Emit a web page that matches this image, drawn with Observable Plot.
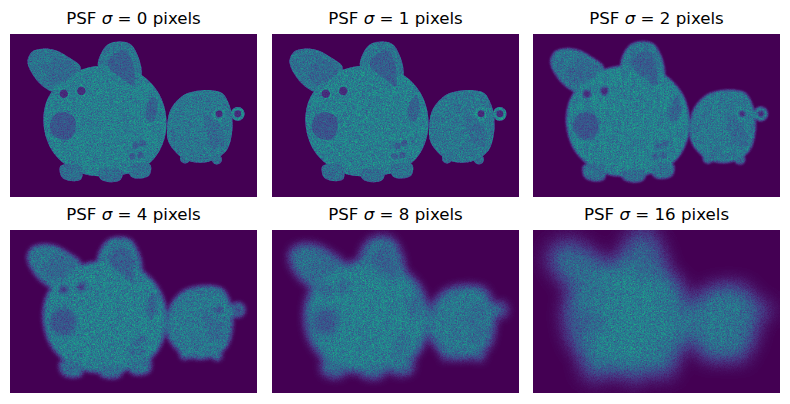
<!DOCTYPE html>
<html><head><meta charset="utf-8">
<script src="https://cdn.jsdelivr.net/npm/d3@7"></script>
<script src="https://cdn.jsdelivr.net/npm/@observablehq/plot@0.6"></script>
<style>
body{margin:0;background:#fff;}
#fig{position:relative;width:790px;height:404px;font-family:"DejaVu Sans",sans-serif;}
.title{position:absolute;width:247px;text-align:center;font-size:16.67px;line-height:16.67px;color:#000;white-space:nowrap;}
.panel{position:absolute;width:247px;height:163px;}
.panel svg{display:block;}
</style></head>
<body><div id="fig"></div>
<script>
// ---- data (image pixel coordinates of a 450 x 300 image) ----
const IMG_W = 450, IMG_H = 300;
const sigmas = [0, 1, 2, 4, 8, 16];

const bigBody   = [[60,161],[64,128],[78,101],[104,77],[137,62],[173,57],[210,61],[242,77],[268,105],[281,136],[284,171],[277,202],[261,229],[233,250],[200,259],[168,261],[135,257],[106,244],[80,220],[66,193]];
const leftEar   = [[31,50],[40,31],[58,26],[82,29],[106,42],[128,61],[109,88],[82,106],[64,99],[44,79]];
const rightEar  = [[160,59],[164,37],[178,18],[200,13],[219,18],[231,37],[239,68],[233,97],[215,92],[195,73],[177,62]];
const leftFoot  = [[91,242],[93,262],[106,269],[128,267],[131,251],[124,240]];
const midFoot   = [[160,250],[164,266],[182,272],[200,268],[204,251],[182,248]];
const rightFoot = [[215,245],[220,262],[237,265],[253,259],[255,240],[233,236]];
const smallBody = [[285,176],[290,142],[304,121],[322,108],[346,103],[368,103],[386,108],[398,128],[404,155],[403,185],[394,213],[372,230],[346,236],[318,230],[297,212],[287,195]];
const smallFeet = [[318,228],[376,230]];

const leftEarInner  = [[64,64],[82,46],[106,51],[120,66],[100,86],[76,92]];
const rightEarInner = [[177,55],[188,37],[206,29],[220,44],[226,73],[224,95],[204,81],[186,68]];
const snout         = [[73,161],[82,147],[100,143],[117,154],[118,176],[106,193],[86,191],[73,178]];
const sideMark      = [[250,125],[261,114],[268,132],[259,161],[248,156]];
const smallShade    = [[352,141],[366,154],[386,174],[388,202],[370,206],[357,180]];

const eyes      = [[97,109],[129,104]];
const pawSpots  = [[228,205],[240,200],[222,224],[237,222]];
const hearts    = [[380,146],[414,146]];

// intensity levels (0..1, shown through the viridis colormap)
const baseShapes = [
  {id:"leftEar", pts:leftEar, level:0.37},
  {id:"rightEar", pts:rightEar, level:0.38},
  {id:"bigBody", pts:bigBody, level:0.42},
  {id:"leftFoot", pts:leftFoot, level:0.35},
  {id:"midFoot", pts:midFoot, level:0.35},
  {id:"rightFoot", pts:rightFoot, level:0.36},
  {id:"smallBody", pts:smallBody, level:0.39}
];
const featureShapes = [
  {id:"leftEarInner", pts:leftEarInner, level:0.33},
  {id:"rightEarInner", pts:rightEarInner, level:0.29},
  {id:"snout", pts:snout, level:0.26},
  {id:"sideMark", pts:sideMark, level:0.31},
  {id:"smallShade", pts:smallShade, level:0.34}
];

function rows(shapes){
  return shapes.flatMap(s => s.pts.map(([x,y]) => ({id:s.id, level:s.level, x, y})));
}
function dots(pts, level){ return pts.map(([x,y]) => ({x, y, level})); }

const baseRows = rows(baseShapes), featRows = rows(featureShapes);

const N = 32;
const vir = d3.range(N+1).map(k => d3.rgb(d3.interpolateViridis(k/N)));
const tabR = vir.map(c => (c.r/255).toFixed(4)).join(" ");
const tabG = vir.map(c => (c.g/255).toFixed(4)).join(" ");
const tabB = vir.map(c => (c.b/255).toFixed(4)).join(" ");

const PW = 247, PH = 163;
const colX = [10, 272, 533];
const rowY = [34, 230];
const fig = document.getElementById("fig");
const pxPerImg = PW / IMG_W;

sigmas.forEach((sig, i) => {
  const cx = colX[i % 3], ry = rowY[Math.floor(i / 3)];
  const t = document.createElement("div");
  t.className = "title";
  t.style.left = cx + "px";
  t.style.top = (ry - 23) + "px";
  t.innerHTML = `PSF <i>σ</i> = ${sig} pixels`;
  fig.appendChild(t);

  const svg = Plot.plot({
    width: PW, height: PH, margin: 0,
    x: {domain: [0, IMG_W], axis: null},
    y: {domain: [0, IMG_H], range: [0, PH], axis: null},
    color: {type: "linear", domain: [0, 1], range: ["black", "white"], interpolate: "rgb"},
    style: {background: "none"},
    marks: [
      Plot.frame({fill: "black", stroke: "none"}),
      Plot.dot(dots(smallFeet, 0.35), {x: "x", y: "y", r: 5, fill: "level"}),
      Plot.line(baseRows, {x: "x", y: "y", z: "id", fill: "level", stroke: "none", curve: "catmull-rom-closed"}),
      Plot.line(featRows, {x: "x", y: "y", z: "id", fill: "level", stroke: "none", curve: "catmull-rom-closed"}),
      Plot.dot(dots(eyes, 0.46), {x: "x", y: "y", r: 5.8, fill: "level"}),
      Plot.dot(dots(eyes, 0.12), {x: "x", y: "y", r: 4.3, fill: "level"}),
      Plot.dot(dots(pawSpots, 0.28), {x: "x", y: "y", r: 3.2, fill: "level"}),
      Plot.dot(dots(hearts, 0.46), {x: "x", y: "y", r: 6.8, fill: "level"}),
      Plot.dot(dots(hearts, 0.12), {x: "x", y: "y", r: 3.5, fill: "level"})
    ]
  });

  const ns = "http://www.w3.org/2000/svg";
  const s = d3.select(svg);
  const defs = s.append("defs");
  const f = defs.append("filter").attr("id", "psf" + i)
    .attr("filterUnits", "userSpaceOnUse").attr("x", 0).attr("y", 0)
    .attr("width", PW).attr("height", PH)
    .attr("color-interpolation-filters", "sRGB");
  if (sig > 0) f.append("feGaussianBlur").attr("in", "SourceGraphic").attr("stdDeviation", sig * pxPerImg).attr("result", "b");
  else f.append("feOffset").attr("in", "SourceGraphic").attr("dx", 0).attr("dy", 0).attr("result", "b");
  f.append("feColorMatrix").attr("in", "b").attr("type", "matrix")
    .attr("values", "1 0 0 0 0  0 1 0 0 0  0 0 1 0 0  0 0 0 0 1").attr("result", "bo");
  f.append("feTurbulence").attr("type", "fractalNoise").attr("baseFrequency", 1.7)
    .attr("numOctaves", 1).attr("seed", 7 + i * 13).attr("result", "t");
  f.append("feColorMatrix").attr("in", "t").attr("type", "matrix")
    .attr("values", "1.6 0 0 0 -0.3  1.6 0 0 0 -0.3  1.6 0 0 0 -0.3  0 0 0 0 1").attr("result", "n");
  f.append("feComposite").attr("in", "bo").attr("in2", "n").attr("operator", "arithmetic")
    .attr("k1", 1).attr("k2", 0.5).attr("k3", 0).attr("k4", 0).attr("result", "m");
  const ct = f.append("feComponentTransfer").attr("in", "m");
  ct.append("feFuncR").attr("type", "table").attr("tableValues", tabR);
  ct.append("feFuncG").attr("type", "table").attr("tableValues", tabG);
  ct.append("feFuncB").attr("type", "table").attr("tableValues", tabB);

  const g = document.createElementNS(ns, "g");
  g.setAttribute("filter", `url(#psf${i})`);
  Array.from(svg.childNodes).forEach(node => {
    if (node.nodeName !== "style" && node.nodeName !== "defs") g.appendChild(node);
  });
  svg.appendChild(g);

  const p = document.createElement("div");
  p.className = "panel";
  p.style.left = cx + "px";
  p.style.top = ry + "px";
  p.appendChild(svg);
  fig.appendChild(p);
});
</script></body></html>
